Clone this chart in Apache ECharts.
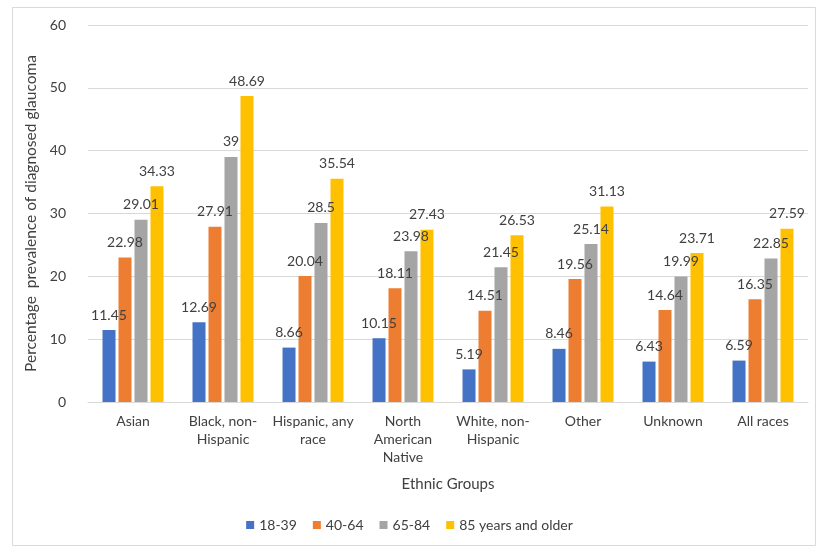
<!DOCTYPE html>
<html><head><meta charset="utf-8">
<script src="https://cdn.jsdelivr.net/npm/echarts@6/dist/echarts.min.js"></script>
<style>html,body{margin:0;padding:0;background:#fff}#c{width:819px;height:549px}</style>
</head><body><div id="c"></div>
<script>
const categories = ['Asian', 'Black, non-\nHispanic', 'Hispanic, any\nrace', 'North\nAmerican\nNative', 'White, non-\nHispanic', 'Other', 'Unknown', 'All races'];
const seriesNames = ['18-39', '40-64', '65-84', '85 years and older'];
const age18_39 = [11.45, 12.69, 8.66, 10.15, 5.19, 8.46, 6.43, 6.59];
const age40_64 = [22.98, 27.91, 20.04, 18.11, 14.51, 19.56, 14.64, 16.35];
const age65_84 = [29.01, 39, 28.5, 23.98, 21.45, 25.14, 19.99, 22.85];
const age85plus = [34.33, 48.69, 35.54, 27.43, 26.53, 31.13, 23.71, 27.59];
const colors = ['#4472C4', '#ED7D31', '#A5A5A5', '#FFC000'];
const values = [age18_39, age40_64, age65_84, age85plus];
const font = 'Lato, "Open Sans", sans-serif';
const chart = echarts.init(document.getElementById('c'));
chart.setOption({
  animation: false,
  textStyle: {fontFamily: font},
  graphic: [{type: 'rect', shape: {x: 12.5, y: 7.5, width: 803, height: 538}, style: {fill: 'none', stroke: '#d9d9d9', lineWidth: 1}, silent: true}],
  grid: {left: 88, right: 11, top: 25, bottom: 147},
  legend: {
    bottom: 12, left: 'center', itemWidth: 8, itemHeight: 8, itemGap: 16,
    textStyle: {fontSize: 14, color: '#404040', fontFamily: font},
    data: seriesNames.map(n => ({name: n, icon: 'rect'}))
  },
  xAxis: {
    type: 'category', data: categories,
    name: 'Ethnic Groups', nameLocation: 'middle', nameGap: 75,
    nameTextStyle: {fontSize: 15, color: '#404040', fontFamily: font},
    axisTick: {show: false},
    axisLine: {lineStyle: {color: '#d9d9d9'}},
    axisLabel: {fontSize: 14, color: '#404040', interval: 0, margin: 10, lineHeight: 18, fontFamily: font}
  },
  yAxis: {
    type: 'value', min: 0, max: 60, interval: 10,
    name: 'Percentage  prevalence of diagnosed glaucoma', nameLocation: 'middle', nameGap: 40,
    nameTextStyle: {fontSize: 15.5, color: '#404040', fontFamily: font},
    axisLabel: {fontSize: 14, color: '#404040', margin: 22, fontFamily: font},
    splitLine: {lineStyle: {color: '#d9d9d9'}},
    axisLine: {show: false}, axisTick: {show: false}
  },
  series: seriesNames.map((n, i) => ({
    name: n, type: 'bar', data: values[i],
    itemStyle: {color: colors[i]},
    barWidth: 13, barGap: '23%', barCategoryGap: '32%',
    label: {show: true, position: 'top', distance: 8, fontSize: 14, color: '#404040', fontFamily: font}
  }))
});
</script></body></html>
